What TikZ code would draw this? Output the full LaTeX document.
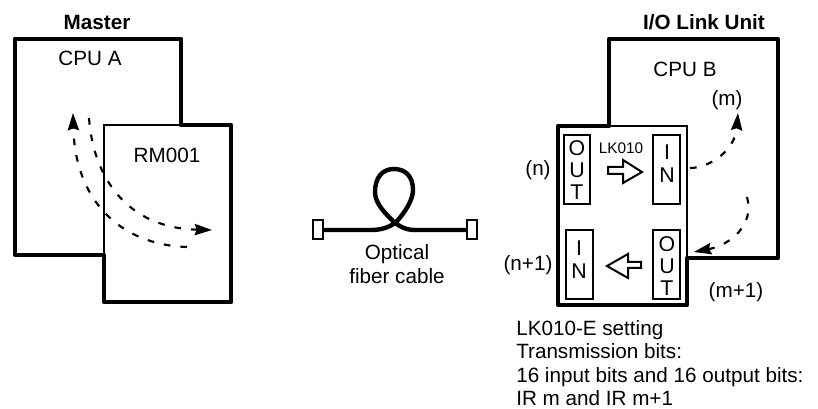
\documentclass[tikz,border=0pt]{standalone}
\usepackage{fontspec}
\setmainfont{Liberation Sans}
\usetikzlibrary{arrows.meta}
\tikzset{
 thickline/.style={line width=3.6pt,line join=round,line cap=round},
 thinline/.style={line width=1.3pt},
 portbox/.style={draw,line width=1.3pt},
 portlbl/.style={inner sep=0pt,align=center,font=\fontsize{16}{16.3}\selectfont},
 portlblin/.style={inner sep=0pt,align=center,font=\fontsize{16}{17.2}\selectfont},
 lbl/.style={font=\fontsize{15.5}{18}\selectfont,inner sep=0pt},
 boldlbl/.style={font=\fontsize{15.5}{18}\selectfont\bfseries,inner sep=0pt},
 flow/.style={line width=1.6pt,dash pattern=on 5pt off 7.5pt,line cap=butt},
 tip/.style={-{Stealth[length=13pt,width=8.5pt,inset=1.5pt]}},
 blockarrow/.style={draw,line width=1.5pt,fill=white,line join=miter},
}
\begin{document}
\begin{tikzpicture}[x=0.75pt,y=-0.75pt]
\useasboundingbox (0,0) rectangle (818,409);
% CPU A + RM001 outlines
\coordinate (a1) at (104,255); \coordinate (a2) at (15,255); \coordinate (a3) at (15,39);
\coordinate (a4) at (181,39); \coordinate (a5) at (181,125); \coordinate (a6) at (231,125);
\coordinate (a7) at (231,302); \coordinate (a8) at (104,302); \coordinate (a9) at (104,125);
\draw[thickline] (a8) -- (a1) -- (a2) -- (a3) -- (a4) -- (a5) -- (a6) -- (a7) -- cycle;
\draw[thinline] (a1) -- (a9) -- (a5);
% CPU B + LK010
\coordinate (b1) at (609,126); \coordinate (b2) at (609,39); \coordinate (b3) at (778,39);
\coordinate (b4) at (778,258); \coordinate (b5) at (687,258); \coordinate (b6) at (687,305);
\coordinate (b7) at (558,305); \coordinate (b8) at (558,126); \coordinate (b9) at (687,126);
\draw[thickline] (b1) -- (b2) -- (b3) -- (b4) -- (b5) -- (b6) -- (b7) -- (b8) -- cycle;
\draw[thinline] (b1) -- (b9) -- (b5);
% labels
\node[boldlbl] (master) at (97,22) {Master};
\node[boldlbl] (iolink) at (704,22) {I/O Link Unit};
\node[lbl] (cpua) at (90,58) {CPU A};
\node[lbl] (rm) at (167,155) {RM001};
\node[lbl] (cpub) at (685,69) {CPU B};
\node[lbl] (m) at (727,100) {(m)};
\node[lbl] (n) at (538,170) {(n)};
\node[lbl] (n1) at (528,265) {(n+1)};
\node[lbl] (m1) at (736,292) {(m+1)};
\node[font=\fontsize{11.5}{13}\selectfont,inner sep=0pt] (lk) at (621,148) {LK010};
\node[lbl,align=center,font=\fontsize{15.5}{18.5}\selectfont] (cable) at (397,264) {Optical\\fiber cable};
\node[lbl,align=left,anchor=west,font=\fontsize{15.5}{17.5}\selectfont] (setting) at (516,363) {LK010-E setting\\Transmission bits:\\16 input bits and 16 output bits:\\IR m and IR m+1};
% ports
\node[portlbl] (o1) at (577,170) {O\\U\\T};
\node[portlblin] (i1) at (667,164) {I\\N};
\node[portlblin] (i2) at (579,260) {I\\N};
\node[portlbl] (o2) at (667,266) {O\\U\\T};
\draw[portbox] (564,135) rectangle (590,204);
\draw[portbox] (653,135) rectangle (680,204);
\draw[portbox] (566,230) rectangle (593,299);
\draw[portbox] (653,230) rectangle (680,299);
% block arrows
\draw[blockarrow] (608,167) -- (623,167) -- (623,160) -- (642,172) -- (623,183) -- (623,174) -- (608,174) -- cycle;
\draw[blockarrow] (641,262) -- (628,262) -- (628,254) -- (607,266) -- (628,278) -- (628,268) -- (641,268) -- cycle;
% cable
\draw[line width=1.3pt] (313,220) rectangle (323,239);
\draw[line width=1.3pt] (467,220) rectangle (477,239);
\coordinate (cl) at (323,230); \coordinate (cr) at (467,230);
\draw[line width=3.3pt] (cl) -- (372,230) .. controls (384,230) and (394,225) .. (398,220)
 .. controls (410,206) and (413,196) .. (413,190) .. controls (413,176) and (405,169) .. (394,169)
 .. controls (382,169) and (375,178) .. (375,192) .. controls (375,204) and (386,214) .. (394,222)
 .. controls (399,226) and (405,230) .. (415,230) -- (cr);
% flows
\draw[flow,tip] (187,247) .. controls (120,245) and (75,200) .. (73,113);
\draw[flow,tip] (89,118) .. controls (93,175) and (125,228) .. (212,230);
\draw[flow,tip] (690,168) .. controls (710,168) and (735,150) .. (738,113);
\draw[flow,tip] (747,197) .. controls (755,225) and (730,245) .. (694,252);
\end{tikzpicture}
\end{document}
